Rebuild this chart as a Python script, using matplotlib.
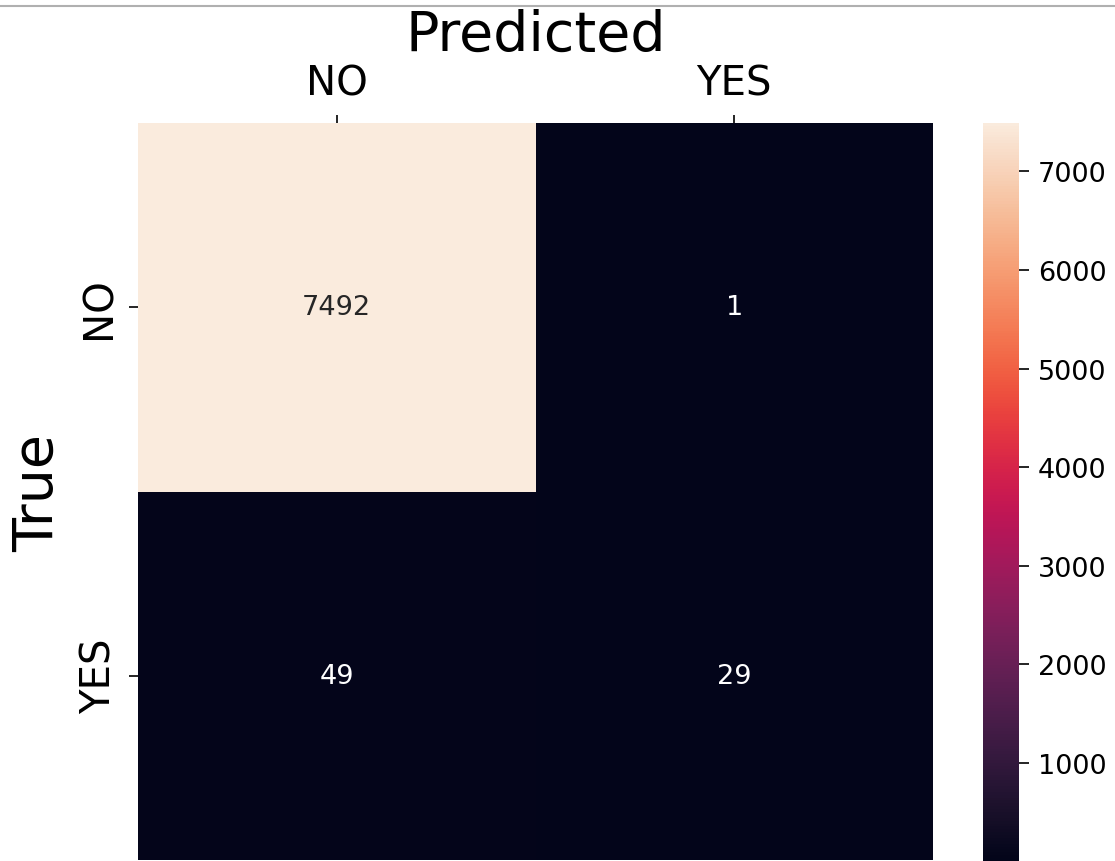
import numpy as np
import matplotlib
matplotlib.use("Agg")
import matplotlib.pyplot as plt
from matplotlib.lines import Line2D
import seaborn as sns

# Confusion matrix counts (rows: true, cols: predicted)
labels = ["NO", "YES"]
counts = np.array([[7492, 1],
                   [49, 29]])

W, H = 1115, 862
fig = plt.figure(figsize=(W / 100, H / 100), dpi=100)

ax = fig.add_axes([138 / W, 1 - 861 / H, (933 - 138) / W, (861 - 124) / H])
cax = fig.add_axes([983 / W, 1 - 862 / H, (1019 - 983) / W, (862 - 124) / H])

sns.heatmap(counts, annot=True, fmt="d", cmap="rocket", ax=ax, cbar_ax=cax,
            xticklabels=labels, yticklabels=labels,
            annot_kws={"fontsize": 19.5})

ax.xaxis.tick_top()
ax.xaxis.set_label_position("top")
ax.set_xlabel("Predicted", fontsize=40, labelpad=10)
ax.set_ylabel("True", fontsize=40, labelpad=10)
ax.tick_params(axis="x", labelsize=29, length=6, width=1.2, pad=8)
ax.tick_params(axis="y", labelsize=29, length=6.5, width=1.2, pad=7)
plt.setp(ax.get_yticklabels(), rotation=90, va="center")
plt.setp(ax.get_xticklabels(), rotation=0)

cax.set_yticks([1000, 2000, 3000, 4000, 5000, 6000, 7000])
cax.tick_params(labelsize=19.5, length=7.5, width=1.2, pad=6)

# thin gray rule along the top edge
fig.add_artist(Line2D([0, 1], [1 - 6.5 / H, 1 - 6.5 / H], color="#b0b0b0", linewidth=1.5))

fig.savefig("out.png", dpi=100)
